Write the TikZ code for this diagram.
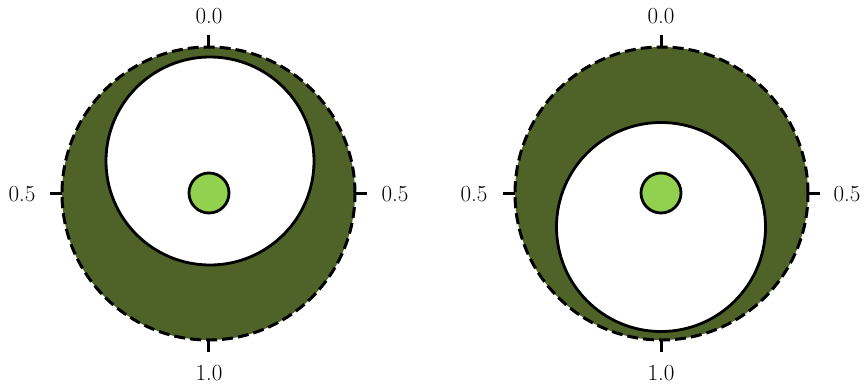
\documentclass[tikz,border=0pt]{standalone}
\usetikzlibrary{calc}
\definecolor{olivefill}{HTML}{4F6228}
\definecolor{dotgreen}{HTML}{92D050}
\begin{document}
\begin{tikzpicture}[x=1pt,y=-1pt,
  outerring/.style={circle,draw=black,fill=olivefill,line width=3pt,dash pattern=on 11pt off 5pt,minimum size=293pt,inner sep=0pt,outer sep=0pt},
  hole/.style={circle,draw=black,fill=white,line width=2.8pt,inner sep=0pt,outer sep=0pt},
  dotnode/.style={circle,draw=black,fill=dotgreen,line width=2.8pt,minimum size=40pt,inner sep=0pt,outer sep=0pt},
  tickline/.style={line width=3pt,black},
  lab/.style={font=\fontsize{23}{27}\selectfont,inner sep=0pt}
]
\useasboundingbox (0,0) rectangle (864,385);
% left
\node[outerring] (oL) at (208.5,193.5) {};
\node[hole,minimum size=208pt] (hL) at (210,161) {};
\node[dotnode] (dL) at (209,193) {};
\coordinate (tLn) at ($(oL.north)+(0,-12)$);
\coordinate (tLs) at ($(oL.south)+(0,12)$);
\coordinate (tLw) at ($(oL.west)+(-12,0)$);
\coordinate (tLe) at ($(oL.east)+(12,0)$);
\draw[tickline] (oL.north) -- (tLn);
\draw[tickline] (oL.south) -- (tLs);
\draw[tickline] (oL.west) -- (tLw);
\draw[tickline] (oL.east) -- (tLe);
\node[lab] (lLn) at (209,16) {0.0};
\node[lab] (lLs) at (209,373.5) {1.0};
\node[lab] (lLw) at (22,194) {0.5};
\node[lab] (lLe) at (395,194) {0.5};
% right
\node[outerring] (oR) at (661.5,193.5) {};
\node[hole,minimum size=209pt] (hR) at (661,227) {};
\node[dotnode] (dR) at (661,193) {};
\coordinate (tRn) at ($(oR.north)+(0,-12)$);
\coordinate (tRs) at ($(oR.south)+(0,12)$);
\coordinate (tRw) at ($(oR.west)+(-12,0)$);
\coordinate (tRe) at ($(oR.east)+(12,0)$);
\draw[tickline] (oR.north) -- (tRn);
\draw[tickline] (oR.south) -- (tRs);
\draw[tickline] (oR.west) -- (tRw);
\draw[tickline] (oR.east) -- (tRe);
\node[lab] (lRn) at (661,16) {0.0};
\node[lab] (lRs) at (661,373.5) {1.0};
\node[lab] (lRw) at (474,194) {0.5};
\node[lab] (lRe) at (847,194) {0.5};
\end{tikzpicture}
\end{document}
